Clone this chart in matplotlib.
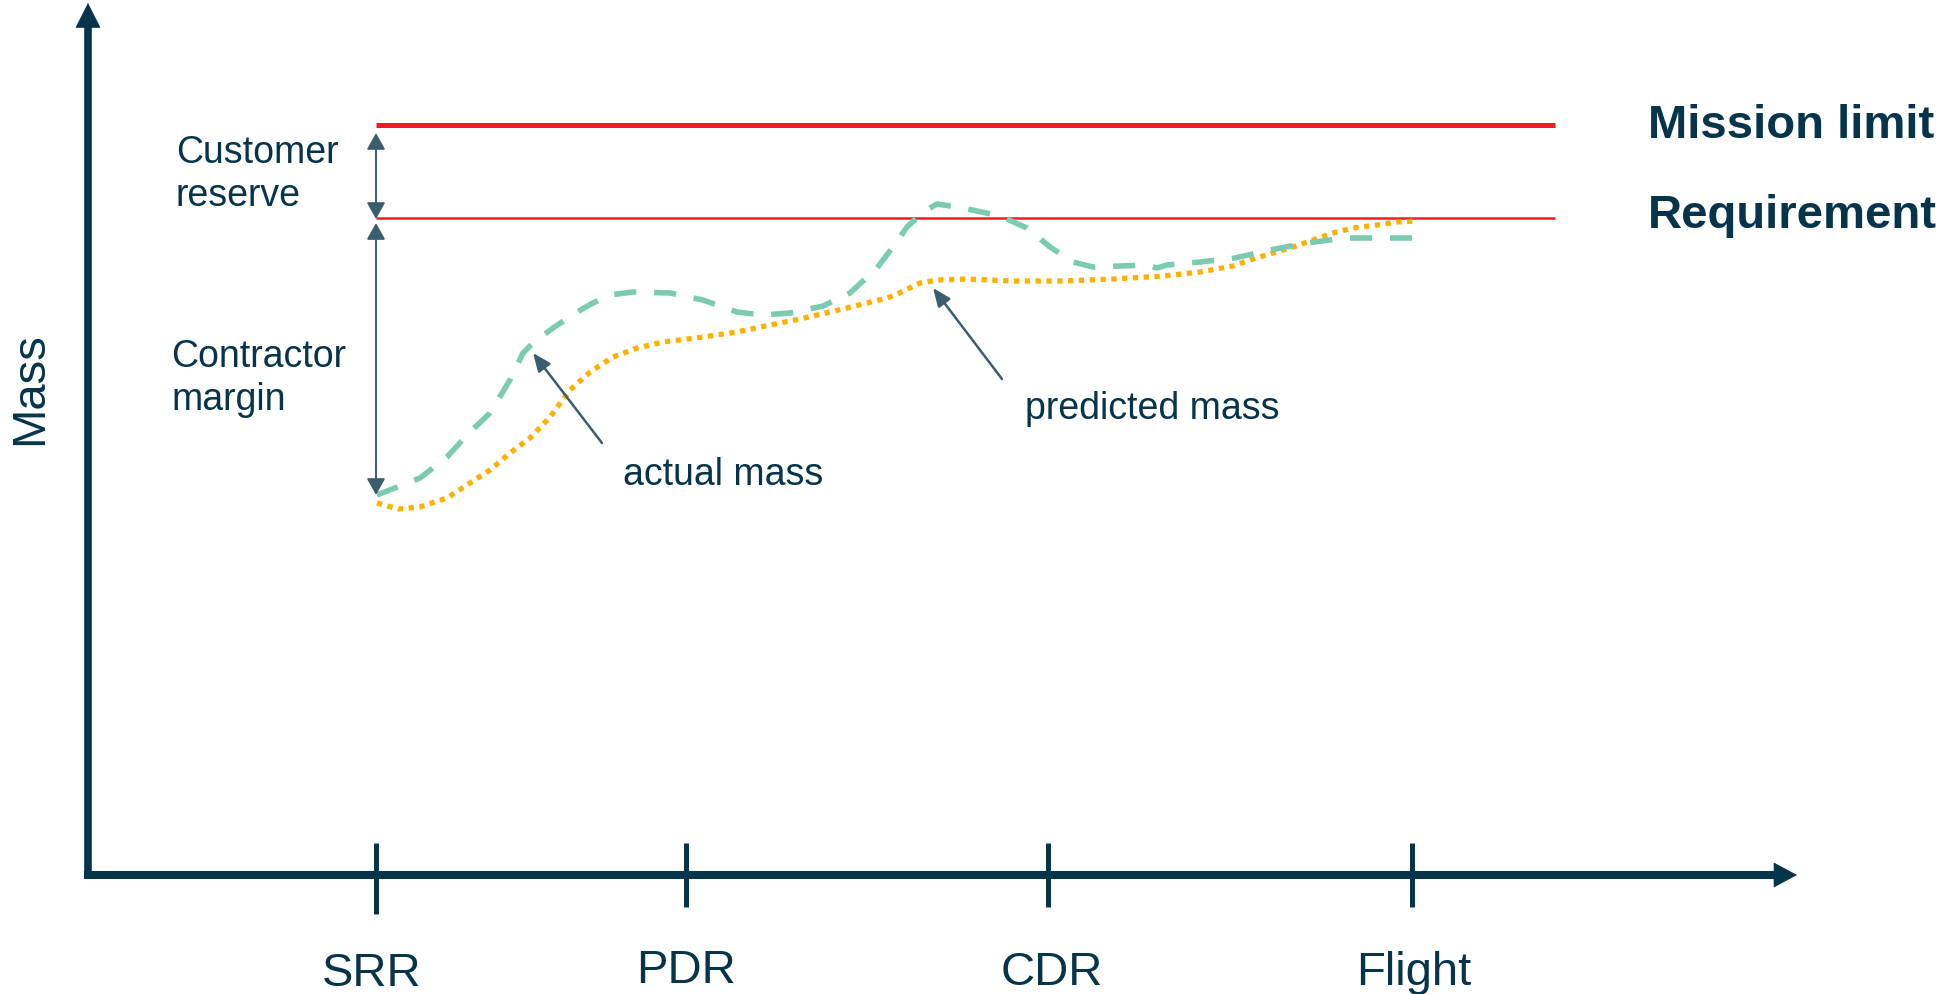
import matplotlib
matplotlib.use("Agg")
from matplotlib import pyplot as plt

# Arial-like font, fall back to DejaVu
plt.rcParams['font.family'] = ['Liberation Sans', 'DejaVu Sans']

# colours
navy = "#06344B"
slate = "#3A5E6E"
red = "#ED1C24"
green = "#7ACBB1"
orange = "#FFB000"

# review milestones on the time axis
milestones = ["SRR", "PDR", "CDR", "Flight"]
milestone_x = [376, 686, 1048, 1412]

# horizontal mass levels
mission_limit = 869
requirement = 776
level_start = 376
level_end = 1555

# actual mass (green dashed)
actual_x = [377, 420, 447, 467, 490, 510, 523, 533, 553, 577, 593, 610, 633, 670,
            703, 737, 763, 790, 823, 850, 877, 893, 907, 923, 937, 963, 1000, 1027,
            1050, 1073, 1093, 1120, 1147, 1157, 1167, 1200, 1235, 1270, 1307, 1345,
            1382, 1412]
actual_mass = [499, 516, 537, 559, 581, 614, 641, 651, 666, 682, 691, 699, 702, 701,
               694, 682, 679, 681, 688, 701, 726, 747, 767, 782, 790, 786, 778, 766,
               747, 732, 727, 728, 729, 726, 729, 732, 736, 744, 751, 756,
               756, 756]

# predicted mass (orange dotted)
predicted_x = [377, 398, 420, 447, 470, 490, 510, 530, 550, 570, 590, 613, 637, 663,
               703, 737, 770, 800, 847, 887, 895, 920, 937, 967, 1013, 1063, 1113,
               1163, 1200, 1233, 1253, 1273, 1293, 1313, 1333, 1353, 1377, 1397, 1418]
predicted_mass = [491, 485, 487, 496, 511, 524, 541, 556, 577, 604, 622, 637, 646, 652,
                  657, 662, 669, 675, 686, 696, 699, 711, 714, 715, 713, 713, 715,
                  718, 722, 728, 735, 741, 747, 754, 761, 766, 769, 772, 773]


def arrow(ax, tip, tail, style, color, lw):
    ax.annotate("", xy=tip, xytext=tail,
                arrowprops=dict(arrowstyle=style, color=color, lw=lw,
                                shrinkA=0, shrinkB=0, mutation_scale=1))


def draw_axes(ax):
    # y axis with arrow head
    ax.plot([88, 88], [116, 968], color=navy, lw=5.5, solid_capstyle="butt")
    arrow(ax, (88, 991), (88, 940), "-|>,head_length=17,head_width=8.6", navy, 0.5)
    # x axis with arrow head
    ax.plot([84, 1775], [119, 119], color=navy, lw=5.8, solid_capstyle="butt")
    arrow(ax, (1797, 119), (1750, 119), "-|>,head_length=16,head_width=8.6", navy, 0.5)
    # milestone ticks, first one a bit longer
    for i, x in enumerate(milestone_x):
        bottom = 80 if i == 0 else 87
        ax.plot([x, x], [bottom, 151], color=navy, lw=3.6, solid_capstyle="butt")
    label_x = [372, 686, 1052, 1414]
    label_base = [8, 11, 9, 9]
    for name, x, y in zip(milestones, label_x, label_base):
        ax.text(x, y, name, ha="center", va="baseline", fontsize=34, color=navy)
    ax.text(30, 605, "Mass", rotation=90, ha="center", va="center", fontsize=34, color=navy)


def draw_one_figure(ax):
    draw_axes(ax)
    # limits
    ax.plot([level_start, level_end], [mission_limit, mission_limit], color=red, lw=3.6,
            solid_capstyle="butt")
    ax.plot([level_start, level_end], [requirement, requirement], color=red, lw=1.8,
            solid_capstyle="butt")
    ax.text(1648, 856, "Mission limit", fontsize=34, fontweight="bold", color=navy,
            va="baseline")
    ax.text(1648, 766, "Requirement", fontsize=34, fontweight="bold", color=navy,
            va="baseline")

    # mass curves
    ax.plot(predicted_x, predicted_mass, color=orange, lw=3.8, dashes=(1, 1.05),
            dash_capstyle="butt")
    ax.plot(actual_x, actual_mass, color=green, lw=4, dashes=(4, 3.2),
            dash_capstyle="butt")

    # reserve / margin double arrows
    arrow(ax, (376, 861), (376, 775), "<|-|>,head_length=10,head_width=5.6", slate, 1.4)
    arrow(ax, (376, 771), (376, 499), "<|-|>,head_length=10,head_width=5.6", slate, 1.4)
    # multi-line baseline is the last line here
    ax.text(176, 788, "Customer\nreserve", fontsize=27, color=navy, va="baseline",
            linespacing=1.25)
    ax.text(171, 584, "Contractor\nmargin", fontsize=27, color=navy, va="baseline",
            linespacing=1.25)

    # pointers to the curves
    arrow(ax, (533, 641), (602, 551), "-|>,head_length=11,head_width=4.6", slate, 1.8)
    arrow(ax, (933, 706), (1002, 615), "-|>,head_length=11,head_width=4.6", slate, 1.8)
    ax.text(623, 509, "actual mass", fontsize=27, color=navy, va="baseline")
    ax.text(1025, 575, "predicted mass", fontsize=27, color=navy, va="baseline")


if __name__ == '__main__':
    fig = plt.figure(figsize=(19.45, 9.94), dpi=100)
    ax = fig.add_axes([0, 0, 1, 1])
    ax.set_xlim(0, 1945)
    ax.set_ylim(0, 994)
    ax.axis("off")
    draw_one_figure(ax)
    fig.savefig("out.png", dpi=100)
